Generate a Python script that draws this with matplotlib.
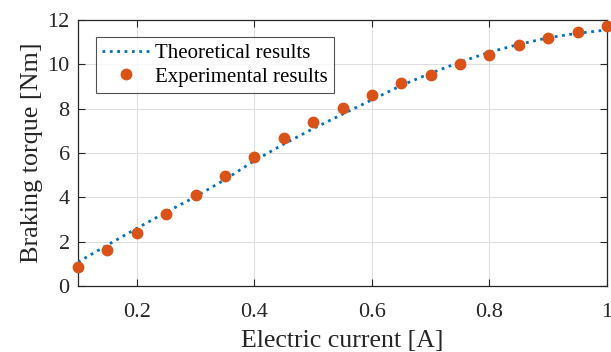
import matplotlib
matplotlib.use("Agg")
import matplotlib.pyplot as plt

plt.rcParams['font.family'] = ['Liberation Serif', 'DejaVu Serif']
plt.rcParams['mathtext.fontset'] = 'stix'

current = [0.10, 0.15, 0.20, 0.25, 0.30, 0.35, 0.40, 0.45, 0.50, 0.55,
           0.60, 0.65, 0.70, 0.75, 0.80, 0.85, 0.90, 0.95, 1.00]
theoretical = [1.08, 1.85, 2.60, 3.33, 4.03, 4.80, 5.65, 6.40, 7.10, 7.75,
               8.40, 9.05, 9.60, 10.10, 10.55, 10.90, 11.20, 11.40, 11.55]
experimental = [0.86, 1.61, 2.41, 3.25, 4.09, 4.98, 5.83, 6.66, 7.38, 8.01,
                8.63, 9.14, 9.52, 10.01, 10.42, 10.86, 11.20, 11.47, 11.73]
xticks = [0.2, 0.4, 0.6, 0.8, 1.0]
xticklabels = ['0.2', '0.4', '0.6', '0.8', '1']
yticks = [0, 2, 4, 6, 8, 10, 12]

fig = plt.figure(figsize=(6.11, 3.52), dpi=100)
ax = fig.add_axes([0.1277, 0.1875, 0.8658, 0.7557])

ax.plot(current, theoretical, linestyle=':', color='#0072BD', linewidth=2.0,
        label='Theoretical results', zorder=3)
ax.plot(current, experimental, linestyle='none', marker='o', markersize=7.5,
        color='#D95319', markeredgecolor='#D95319', label='Experimental results',
        zorder=4, clip_on=False)

ax.set_xlim(0.1, 1.0)
ax.set_ylim(0, 12)
ax.set_xticks(xticks)
ax.set_xticklabels(xticklabels)
ax.set_yticks(yticks)
ax.tick_params(direction='in', top=True, right=True, labelsize=16, length=5,
               width=0.8, colors='#262626')
ax.tick_params(axis='x', pad=12.5)
ax.tick_params(axis='y', pad=6)
ax.grid(True, color='#dfdfdf', linewidth=0.8)
ax.set_axisbelow(True)
for s in ax.spines.values():
    s.set_color('#262626')
    s.set_linewidth(0.9)

ax.set_xlabel('Electric current [A]', fontsize=18.6, color='#262626', labelpad=5.5)
ax.set_ylabel('Braking torque [Nm]', fontsize=18.8, color='#262626', labelpad=3)

leg = ax.legend(loc='upper left', bbox_to_anchor=(0.034, 0.936), borderaxespad=0,
                fontsize=15, frameon=True, fancybox=False, edgecolor='#262626',
                handlelength=2.3, handletextpad=0.25, borderpad=0.3,
                labelspacing=0.2)
leg.get_frame().set_linewidth(0.8)

fig.savefig('out.png', dpi=100)
